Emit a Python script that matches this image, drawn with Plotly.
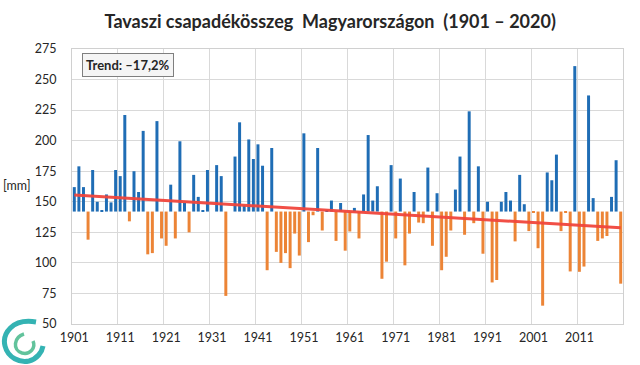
import plotly.graph_objects as go

# ---- data ----
years = list(range(1901, 2021))
precip = [
    162, 179, 162, 119, 176, 150, 143, 156, 149.5, 176,
    171, 221, 134, 175, 158, 208, 107, 108, 216, 120,
    114, 164, 120, 199.5, 149, 125, 172, 154, 143, 176,
    142, 180, 171, 73, 142, 187, 215, 147, 201, 185,
    197, 179.5, 94, 194, 109, 100, 108, 95.7, 124, 106,
    206, 117, 139, 194, 126.5, 142.5, 151, 118, 149, 110,
    125.7, 145, 120, 156, 204.6, 151, 162.7, 87, 101, 180,
    120, 169, 98, 124, 158, 133, 132.5, 178, 114, 157,
    94, 105, 126.5, 160, 187, 123, 224, 132.5, 179, 107.5,
    150, 84, 86, 150, 158, 151, 117.6, 172, 148, 126,
    141, 112, 65, 174, 167.6, 188.6, 126, 141, 93, 261,
    92.7, 97, 237, 153, 118, 120, 122, 154, 184, 83,
]
baseline = 142.0
trend_years = [1901, 2020]
trend_values = [155.5, 128.7]
trend_label = "Trend: \u201317,2%"
title_text = "Tavaszi csapadékösszeg  Magyarországon  (1901 \u2013 2020)"
xtick_years = list(range(1901, 2021, 10))
ytick_vals = list(range(50, 276, 25))

BLUE = "#1f6db5"
ORANGE = "#ec8436"
FONT = "Lato"

W, H = 640, 365
ML, MR, MT, MB = 72, 17, 49, 41

colors = [BLUE if v >= baseline else ORANGE for v in precip]

fig = go.Figure()
fig.add_trace(go.Bar(
    x=years,
    y=[v - baseline for v in precip],
    base=baseline,
    marker=dict(color=colors, line=dict(width=0)),
    hoverinfo="skip",
))
fig.add_trace(go.Scatter(
    x=trend_years, y=trend_values, mode="lines",
    line=dict(color="rgba(240,70,60,0.95)", width=3),
    hoverinfo="skip",
))

fig.update_layout(
    width=W, height=H,
    margin=dict(l=ML, r=MR, t=MT, b=MB, autoexpand=False),
    paper_bgcolor="white", plot_bgcolor="white",
    showlegend=False,
    bargap=0.35,
    font=dict(family=FONT, color="#262626", size=12),
    title=dict(text="<b>" + title_text + "</b>", x=0.516, xanchor="center",
               y=0.94, yanchor="middle",
               font=dict(family=FONT, size=18, color="#262626")),
    xaxis=dict(
        range=[1900.5, 2020.5], automargin=False,
        tickmode="array", tickvals=xtick_years,
        ticktext=[str(y) for y in xtick_years],
        showgrid=False, zeroline=False,
        ticks="", showline=True, linecolor="#d0d0d0", mirror=True,
        ticklabelstandoff=2,
        tickfont=dict(size=12.5, color="#262626"),
        minor=dict(tickmode="array",
                   tickvals=[y - 0.5 for y in xtick_years],
                   showgrid=True, gridcolor="#d9d9d9", gridwidth=1, ticks=""),
    ),
    yaxis=dict(
        range=[50, 275], automargin=False,
        tickmode="array", tickvals=ytick_vals,
        showgrid=True, gridcolor="#d9d9d9", gridwidth=1,
        zeroline=False, ticks="", showline=True, linecolor="#d0d0d0", mirror=True,
        ticklabelstandoff=12,
        tickfont=dict(size=12.5, color="#262626"),
    ),
)

fig.add_annotation(
    text="[mm]", xref="paper", yref="paper", x=-0.07, y=0.505,
    xanchor="right", yanchor="middle", showarrow=False,
    font=dict(size=12.5, color="#262626"),
)
fig.add_annotation(
    text="<b>" + trend_label + "</b>", xref="paper", yref="paper",
    x=0.018, y=0.985, xanchor="left", yanchor="top",
    showarrow=False, bordercolor="#7f7f7f", borderwidth=1, borderpad=3,
    bgcolor="#f5f5f5", font=dict(size=13, color="#262626"),
)

# decorative logo (bottom-left), drawn in pixel units converted to paper
pw, ph = W - ML - MR, H - MT - MB
def px(x):
    return (x - ML) / pw
def py(y):
    return (H - MB - y) / ph

def path(pts):
    (x0, y0), rest = pts[0], pts[1:]
    s = f"M {px(x0):.4f},{py(y0):.4f}"
    for i in range(0, len(rest), 3):
        a, b, c = rest[i:i + 3]
        s += (f" C {px(a[0]):.4f},{py(a[1]):.4f} {px(b[0]):.4f},{py(b[1]):.4f}"
              f" {px(c[0]):.4f},{py(c[1]):.4f}")
    return s

fig.add_shape(type="path", xref="paper", yref="paper",
              path=path([(36, 322), (12, 318), (2, 334), (5, 346),
                         (8, 358), (20, 363), (29, 361),
                         (37, 359), (42, 352), (43, 346)]),
              line=dict(color="#34b3b3", width=5))
fig.add_shape(type="path", xref="paper", yref="paper",
              path=path([(24, 334), (14, 337), (12, 350), (22, 353),
                         (30, 355), (36, 348), (33, 341)]),
              line=dict(color="#62c39c", width=3.5))

fig.write_html(
    "out.html",
    config={"displayModeBar": False},
    post_script="document.body.style.margin='0';document.body.style.overflow='hidden';",
)
